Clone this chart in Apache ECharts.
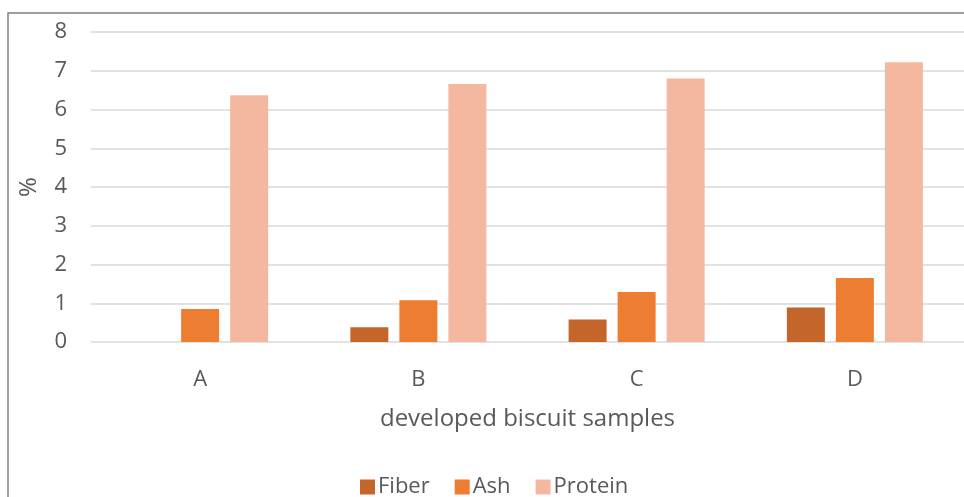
<!DOCTYPE html>
<html>
<head>
<meta charset="utf-8">
<script src="https://cdn.jsdelivr.net/npm/echarts@6/dist/echarts.min.js"></script>
<style>html,body{margin:0;padding:0;background:#fff}#c{width:964px;height:497px}</style>
</head>
<body>
<div id="c"></div>
<script>
const categories = ['A', 'B', 'C', 'D'];
const fiber = [0, 0.38, 0.58, 0.89];
const ash = [0.85, 1.08, 1.29, 1.65];
const protein = [6.37, 6.66, 6.8, 7.22];
const yTicks = [0, 1, 2, 3, 4, 5, 6, 7, 8];

const chart = echarts.init(document.getElementById('c'));
const font = '"Open Sans", "Noto Sans", sans-serif';
const txt = '#595959';
chart.setOption({
  animation: false,
  textStyle: { fontFamily: font },
  graphic: [{
    type: 'rect', shape: { x: 8, y: 13, width: 1000, height: 600 },
    style: { fill: 'none', stroke: '#7f7f7f', lineWidth: 1.5 }, z: -1
  }],
  grid: { left: 91, top: 32, width: 876, height: 310, containLabel: false },
  legend: {
    left: 355, top: 471, itemWidth: 15, itemHeight: 15, itemGap: 25,
    icon: 'rect',
    textStyle: { fontSize: 22, color: txt, fontFamily: font, padding: [0, 0, 0, -2] },
    data: ['Fiber', 'Ash', 'Protein']
  },
  xAxis: {
    type: 'category', data: categories,
    axisLine: { show: false }, axisTick: { show: false },
    axisLabel: { fontSize: 22, color: txt, margin: 27, fontFamily: font },
    name: 'developed biscuit samples', nameLocation: 'middle', nameGap: 65,
    nameTextStyle: { fontSize: 24, color: txt, fontFamily: font }
  },
  yAxis: {
    type: 'value', min: yTicks[0], max: yTicks[yTicks.length - 1], interval: 1,
    axisLine: { show: false }, axisTick: { show: false },
    axisLabel: { fontSize: 22, color: txt, margin: 24, fontFamily: font },
    splitLine: { lineStyle: { color: '#d9d9d9', width: 1.5 } },
    name: '%', nameLocation: 'middle', nameGap: 50, nameRotate: 90,
    nameTextStyle: { fontSize: 24, color: txt, fontFamily: font }
  },
  series: [
    { name: 'Fiber', type: 'bar', data: fiber, barWidth: 38, barGap: '29%', itemStyle: { color: '#C4652A' } },
    { name: 'Ash', type: 'bar', data: ash, barWidth: 38, barGap: '29%', itemStyle: { color: '#ED7D31' } },
    { name: 'Protein', type: 'bar', data: protein, barWidth: 38, barGap: '29%', itemStyle: { color: '#F4B8A1' } }
  ]
});
</script>
</body>
</html>
